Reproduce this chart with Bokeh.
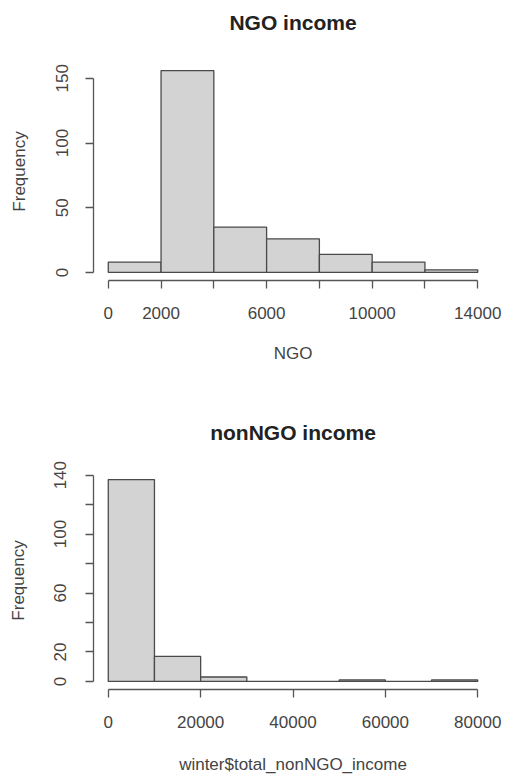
from bokeh.plotting import figure
from bokeh.layouts import column
from bokeh.models import Range1d, FixedTicker, LinearAxis
from bokeh.embed import file_html
from bokeh.resources import INLINE

# ---- data ----
ngo_breaks = [0, 2000, 4000, 6000, 8000, 10000, 12000, 14000]
ngo_counts = [8, 156, 35, 26, 14, 8, 2]
ngo_xticks = [0, 2000, 4000, 6000, 8000, 10000, 12000, 14000]
ngo_xlabels = ["0", "2000", "", "6000", "", "10000", "", "14000"]
ngo_yticks = [0, 50, 100, 150]
ngo_ylabels = ["0", "50", "100", "150"]

non_breaks = [0, 10000, 20000, 30000, 40000, 50000, 60000, 70000, 80000]
non_counts = [137, 17, 3, 0, 0, 1, 0, 1]
non_xticks = [0, 20000, 40000, 60000, 80000]
non_xlabels = ["0", "20000", "40000", "60000", "80000"]
non_yticks = [0, 20, 40, 60, 80, 100, 120, 140]
non_ylabels = ["0", "20", "", "60", "", "100", "", "140"]

FONT = "Liberation Sans"
TXT = "#444444"
LINE = "#555555"


def style_axis(ax, ticks, labels, label_standoff, axis_label, axis_label_standoff):
    ax.ticker = FixedTicker(ticks=ticks)
    ax.major_label_overrides = {t: l for t, l in zip(ticks, labels)}
    ax.bounds = (ticks[0], ticks[-1])
    ax.minor_tick_line_color = None
    ax.major_tick_in = 0
    ax.major_tick_out = 8
    ax.axis_line_color = LINE
    ax.axis_line_width = 1.3
    ax.major_tick_line_color = LINE
    ax.major_tick_line_width = 1.3
    ax.major_label_text_font = FONT
    ax.major_label_text_font_size = "17px"
    ax.major_label_text_color = TXT
    ax.major_label_standoff = label_standoff
    ax.axis_label = axis_label
    ax.axis_label_standoff = axis_label_standoff
    ax.axis_label_text_font = FONT
    ax.axis_label_text_font_size = "17px"
    ax.axis_label_text_font_style = "normal"
    ax.axis_label_text_color = TXT


def hist(title, xlabel, breaks, counts, xticks, xlabels, yticks, ylabels,
         width, height, mb_left, mb_right, mb_top, mb_bottom,
         title_standoff, x_std, x_lab_std, y_std, y_lab_std):
    span = breaks[-1] - breaks[0]
    ymax = max(counts)
    p = figure(width=width, height=height, output_backend="svg", toolbar_location=None,
               x_range=Range1d(breaks[0] - 0.04 * span, breaks[-1] + 0.04 * span),
               y_range=Range1d(-0.04 * ymax, 1.04 * ymax),
               min_border_left=mb_left, min_border_right=mb_right,
               min_border_top=mb_top, min_border_bottom=mb_bottom)
    p.outline_line_color = None
    p.grid.visible = False
    p.background_fill_color = "white"
    p.border_fill_color = "white"

    p.quad(left=breaks[:-1], right=breaks[1:], bottom=0, top=counts,
           fill_color="#D3D3D3", line_color="#4a4a4a", line_width=1.3)

    xax = p.below[0]
    yax = p.left[0]
    style_axis(xax, xticks, xlabels, x_std, xlabel, x_lab_std)
    style_axis(yax, yticks, ylabels, y_std, "Frequency", y_lab_std)
    yax.major_label_orientation = "vertical"

    # main title as a bare label above the plot region
    top = LinearAxis(axis_label=title, ticker=FixedTicker(ticks=[]))
    top.axis_line_color = None
    top.major_tick_line_color = None
    top.minor_tick_line_color = None
    top.major_tick_out = 0
    top.major_tick_in = 0
    top.major_label_standoff = 0
    top.major_label_text_font_size = "0px"
    top.axis_label_standoff = title_standoff
    top.axis_label_text_font = FONT
    top.axis_label_text_font_size = "21px"
    top.axis_label_text_font_style = "bold"
    top.axis_label_text_color = "#222222"
    p.add_layout(top, "above")
    return p


p1 = hist("NGO income", "NGO", ngo_breaks, ngo_counts, ngo_xticks, ngo_xlabels,
          ngo_yticks, ngo_ylabels, 510, 390, 91, 18, 62, 110,
          29, 18, 22, 17, 25)
p2 = hist("nonNGO income", "winter$total_nonNGO_income", non_breaks, non_counts,
          non_xticks, non_xlabels, non_yticks, non_ylabels, 510, 386, 93, 11, 81, 84,
          28, 18, 24, 19, 24)

layout = column(p1, p2, spacing=0)
open("out.html", "w").write(file_html(layout, INLINE))
